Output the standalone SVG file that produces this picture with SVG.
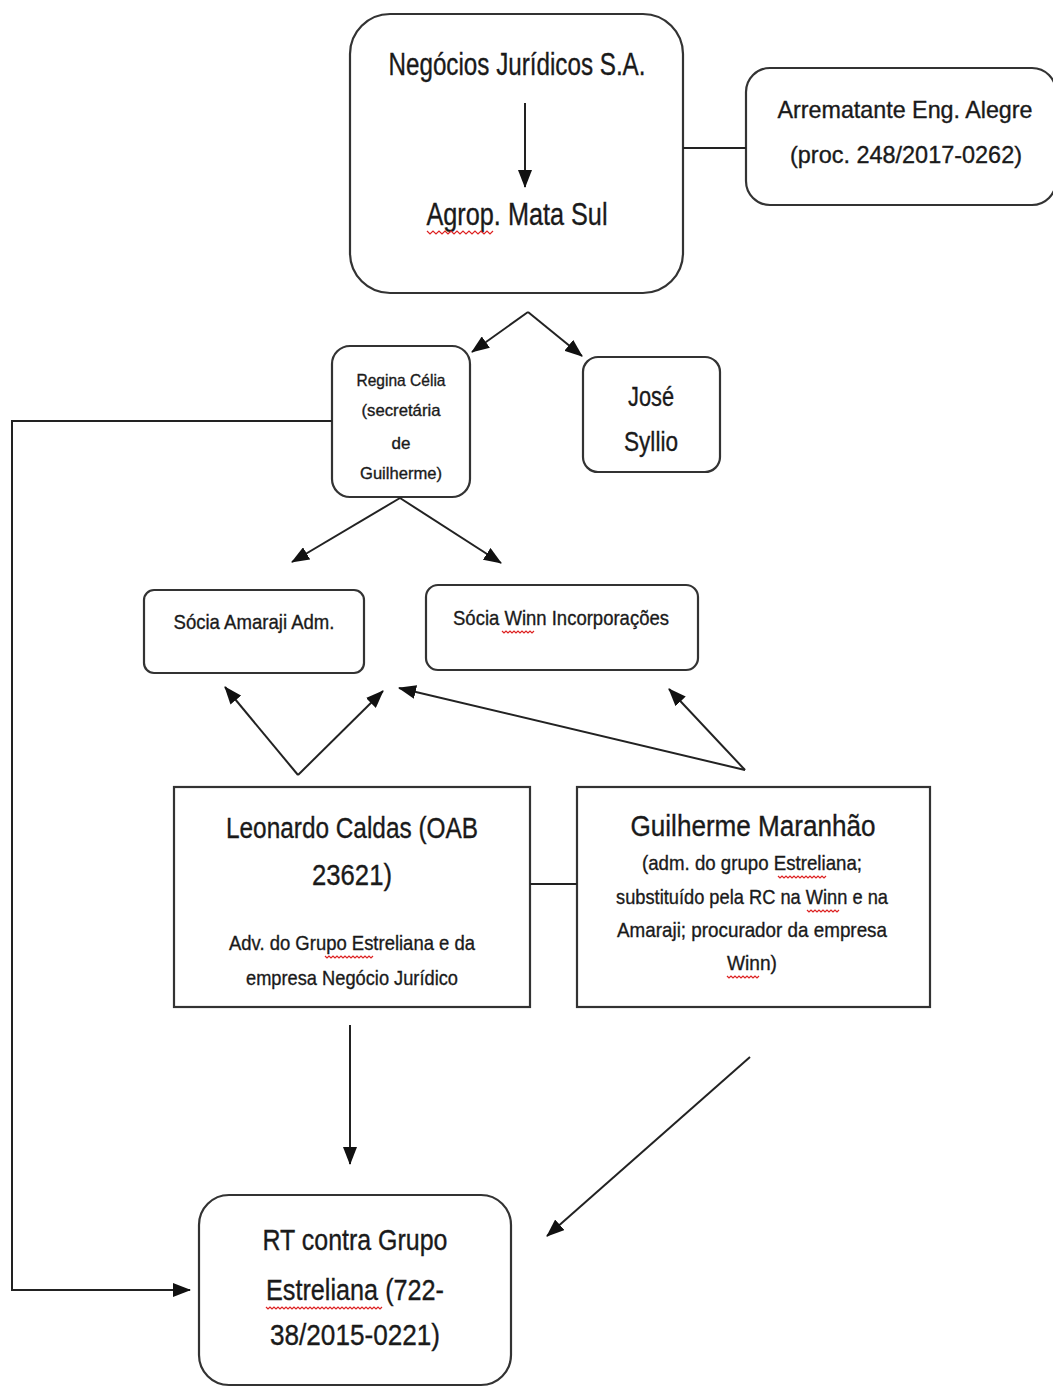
<svg xmlns="http://www.w3.org/2000/svg" width="1053" height="1387" viewBox="0 0 1053 1387">
<style>
.box{fill:#fff;stroke:#333;stroke-width:2.2}
.ln{fill:none;stroke:#222;stroke-width:2}
.t{font-family:"Liberation Sans",Arial,sans-serif;fill:#1a1a1a;text-anchor:middle;stroke:#1a1a1a;stroke-width:0.35}
.sq{fill:none;stroke:#d22;stroke-width:1.2}
</style>
<defs>
<marker id="ah2" viewBox="0 0 18 14" refX="17" refY="7" markerWidth="18" markerHeight="14" markerUnits="userSpaceOnUse" orient="auto">
<path d="M0,0 L18,7 L0,14 z" fill="#111"/>
</marker>
</defs>
<rect width="1053" height="1387" fill="#fff"/>

<g id="negocios">
<rect class="box" x="350" y="14" width="333" height="279" rx="40"/>
<text class="t" x="517" y="75" font-size="31" textLength="257" lengthAdjust="spacingAndGlyphs">Negócios Jurídicos S.A.</text>
<text class="t" x="517" y="225" font-size="31" textLength="181" lengthAdjust="spacingAndGlyphs">Agrop. Mata Sul</text>
<path class="sq" d="M427,231 l3,3 l3,-3 l3,3 l3,-3 l3,3 l3,-3 l3,3 l3,-3 l3,3 l3,-3 l3,3 l3,-3 l3,3 l3,-3 l3,3 l3,-3 l3,3 l3,-3 l3,3 l3,-3 l3,3 l3,-3"/>
</g>

<g id="arrematante">
<rect class="box" x="746" y="68" width="310" height="137" rx="24"/>
<text class="t" x="905" y="118" font-size="24" textLength="255" lengthAdjust="spacingAndGlyphs">Arrematante Eng. Alegre</text>
<text class="t" x="906" y="163" font-size="24" textLength="232" lengthAdjust="spacingAndGlyphs">(proc. 248/2017-0262)</text>
</g>

<g id="regina">
<rect class="box" x="332" y="346" width="138" height="151" rx="18"/>
<text class="t" x="401" y="386" font-size="17" textLength="89" lengthAdjust="spacingAndGlyphs">Regina Célia</text>
<text class="t" x="401" y="416" font-size="17" textLength="79" lengthAdjust="spacingAndGlyphs">(secretária</text>
<text class="t" x="401" y="449" font-size="17">de</text>
<text class="t" x="401" y="479" font-size="17" textLength="82" lengthAdjust="spacingAndGlyphs">Guilherme)</text>
</g>

<g id="jose">
<rect class="box" x="583" y="357" width="137" height="115" rx="15"/>
<text class="t" x="651" y="406" font-size="27" textLength="46" lengthAdjust="spacingAndGlyphs">José</text>
<text class="t" x="651" y="451" font-size="27" textLength="54" lengthAdjust="spacingAndGlyphs">Syllio</text>
</g>

<g id="amaraji">
<rect class="box" x="144" y="590" width="220" height="83" rx="10"/>
<text class="t" x="254" y="629" font-size="21" textLength="161" lengthAdjust="spacingAndGlyphs">Sócia Amaraji Adm.</text>
</g>

<g id="winn">
<rect class="box" x="426" y="585" width="272" height="85" rx="12"/>
<text class="t" x="561" y="625" font-size="21" textLength="216" lengthAdjust="spacingAndGlyphs">Sócia Winn Incorporações</text>
<path class="sq" d="M502,631 l2,2 l2,-2 l2,2 l2,-2 l2,2 l2,-2 l2,2 l2,-2 l2,2 l2,-2 l2,2 l2,-2 l2,2 l2,-2 l2,2 l2,-2"/>
</g>

<g id="leonardo">
<rect class="box" x="174" y="787" width="356" height="220"/>
<text class="t" x="352" y="838" font-size="29" textLength="252" lengthAdjust="spacingAndGlyphs">Leonardo Caldas (OAB</text>
<text class="t" x="352" y="885" font-size="29" textLength="80" lengthAdjust="spacingAndGlyphs">23621)</text>
<text class="t" x="352" y="950" font-size="21" textLength="246" lengthAdjust="spacingAndGlyphs">Adv. do Grupo Estreliana e da</text>
<text class="t" x="352" y="985" font-size="21" textLength="212" lengthAdjust="spacingAndGlyphs">empresa Negócio Jurídico</text>
<path class="sq" d="M325,956 l2,2 l2,-2 l2,2 l2,-2 l2,2 l2,-2 l2,2 l2,-2 l2,2 l2,-2 l2,2 l2,-2 l2,2 l2,-2 l2,2 l2,-2 l2,2 l2,-2 l2,2 l2,-2 l2,2 l2,-2 l2,2 l2,-2"/>
</g>

<g id="guilherme">
<rect class="box" x="577" y="787" width="353" height="220"/>
<text class="t" x="753" y="836" font-size="29" textLength="245" lengthAdjust="spacingAndGlyphs">Guilherme Maranhão</text>
<text class="t" x="752" y="870" font-size="21" textLength="220" lengthAdjust="spacingAndGlyphs">(adm. do grupo Estreliana;</text>
<text class="t" x="752" y="904" font-size="21" textLength="272" lengthAdjust="spacingAndGlyphs">substituído pela RC na Winn e na</text>
<text class="t" x="752" y="937" font-size="21" textLength="270" lengthAdjust="spacingAndGlyphs">Amaraji; procurador da empresa</text>
<text class="t" x="752" y="970" font-size="21" textLength="50" lengthAdjust="spacingAndGlyphs">Winn)</text>
<path class="sq" d="M778,876 l2,2 l2,-2 l2,2 l2,-2 l2,2 l2,-2 l2,2 l2,-2 l2,2 l2,-2 l2,2 l2,-2 l2,2 l2,-2 l2,2 l2,-2 l2,2 l2,-2 l2,2 l2,-2 l2,2 l2,-2 l2,2 l2,-2"/>
<path class="sq" d="M807,910 l2,2 l2,-2 l2,2 l2,-2 l2,2 l2,-2 l2,2 l2,-2 l2,2 l2,-2 l2,2 l2,-2 l2,2 l2,-2 l2,2 l2,-2"/>
<path class="sq" d="M727,976 l2,2 l2,-2 l2,2 l2,-2 l2,2 l2,-2 l2,2 l2,-2 l2,2 l2,-2 l2,2 l2,-2 l2,2 l2,-2 l2,2 l2,-2"/>
</g>

<g id="rt">
<rect class="box" x="199" y="1195" width="312" height="190" rx="30"/>
<text class="t" x="355" y="1250" font-size="29" textLength="185" lengthAdjust="spacingAndGlyphs">RT contra Grupo</text>
<text class="t" x="355" y="1300" font-size="29" textLength="178" lengthAdjust="spacingAndGlyphs">Estreliana (722-</text>
<text class="t" x="355" y="1345" font-size="29" textLength="170" lengthAdjust="spacingAndGlyphs">38/2015-0221)</text>
<path class="sq" d="M266,1307 l2,2 l2,-2 l2,2 l2,-2 l2,2 l2,-2 l2,2 l2,-2 l2,2 l2,-2 l2,2 l2,-2 l2,2 l2,-2 l2,2 l2,-2 l2,2 l2,-2 l2,2 l2,-2 l2,2 l2,-2 l2,2 l2,-2 l2,2 l2,-2 l2,2 l2,-2 l2,2 l2,-2 l2,2 l2,-2 l2,2 l2,-2 l2,2 l2,-2 l2,2 l2,-2 l2,2 l2,-2 l2,2 l2,-2 l2,2 l2,-2 l2,2 l2,-2 l2,2 l2,-2 l2,2 l2,-2 l2,2 l2,-2 l2,2 l2,-2 l2,2 l2,-2 l2,2 l2,-2"/>
</g>

<g id="connectors">
<line class="ln" x1="525" y1="103" x2="525" y2="187" marker-end="url(#ah2)"/>
<line class="ln" x1="683" y1="148" x2="746" y2="148"/>
<line class="ln" x1="528" y1="312" x2="472" y2="352" marker-end="url(#ah2)"/>
<line class="ln" x1="528" y1="312" x2="582" y2="356" marker-end="url(#ah2)"/>
<polyline class="ln" points="332,421 12,421 12,1290 190,1290" marker-end="url(#ah2)"/>
<line class="ln" x1="400" y1="498" x2="292" y2="562" marker-end="url(#ah2)"/>
<line class="ln" x1="400" y1="498" x2="501" y2="563" marker-end="url(#ah2)"/>
<line class="ln" x1="298" y1="775" x2="225" y2="687" marker-end="url(#ah2)"/>
<line class="ln" x1="298" y1="775" x2="383" y2="691" marker-end="url(#ah2)"/>
<line class="ln" x1="745" y1="770" x2="399" y2="688" marker-end="url(#ah2)"/>
<line class="ln" x1="745" y1="770" x2="669" y2="689" marker-end="url(#ah2)"/>
<line class="ln" x1="530" y1="884" x2="577" y2="884"/>
<line class="ln" x1="350" y1="1025" x2="350" y2="1164" marker-end="url(#ah2)"/>
<line class="ln" x1="750" y1="1057" x2="547" y2="1236" marker-end="url(#ah2)"/>
</g>
</svg>
